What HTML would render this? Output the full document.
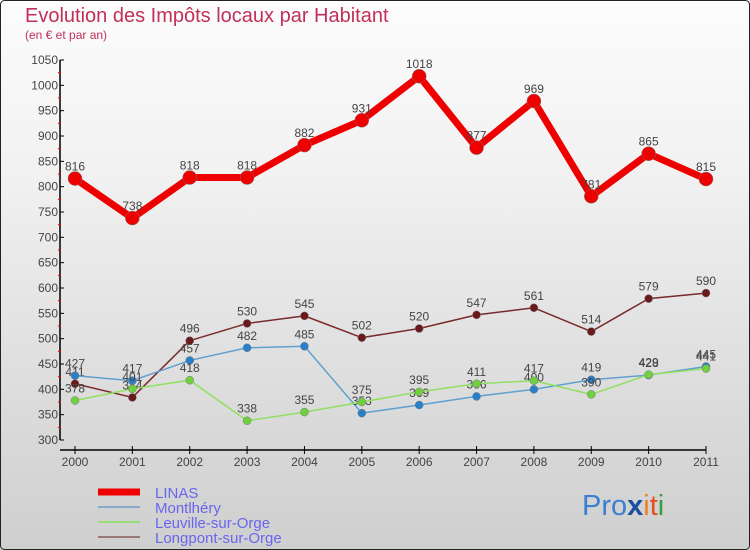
<!DOCTYPE html>
<html><head><meta charset="utf-8"><style>
body{margin:0;}
#wrap{position:relative;width:750px;height:550px;overflow:hidden;background:linear-gradient(#fcfcfc,#f2f2f2 30%,#d8d8d8 80%,#cfcfcf);font-family:"Liberation Sans",sans-serif;}
svg text{font-family:"Liberation Sans",sans-serif;}
</style></head><body>
<div id="wrap">
<svg id="chart" width="750" height="550">
<rect x="0.5" y="0.5" width="749" height="549" rx="4" fill="none" stroke="#222" stroke-width="1"/>
<text x="25" y="22" font-size="20" fill="#c0305a">Evolution des Impôts locaux par Habitant</text>
<text x="25" y="39" font-size="12" fill="#c0305a">(en € et par an)</text>
<g id="axes"></g><g id="series"></g><g id="legend"></g>
<text x="582" y="515" font-size="29"><tspan fill="#3a7fd0">Pro</tspan><tspan fill="#1a4fa0" font-weight="bold">x</tspan><tspan fill="#f08020">i</tspan><tspan fill="#e05020">t</tspan><tspan fill="#30a040">i</tspan></text>
</svg></div>
<script>
const years=[2000,2001,2002,2003,2004,2005,2006,2007,2008,2009,2010,2011];
const yTicks=[300,350,400,450,500,550,600,650,700,750,800,850,900,950,1000,1050];
const linas=[816,738,818,818,882,931,1018,877,969,781,865,815];
const montlhery=[427,417,457,482,485,353,369,386,400,419,428,445];
const leuville=[378,401,418,338,355,375,395,411,417,390,429,441];
const longpont=[411,384,496,530,545,502,520,547,561,514,579,590];
const NS="http://www.w3.org/2000/svg";
const xS=i=>75+i*(706-75)/11;
const yS=v=>440-(v-300)*(380/750);
function mk(t,a,p){const e=document.createElementNS(NS,t);for(const k in a)e.setAttribute(k,a[k]);p.appendChild(e);return e;}
const ax=document.getElementById('axes');
const yl=mk('line',{x1:60,y1:yS(1050),x2:60,y2:yS(300),stroke:'#000','stroke-width':1.5},ax);


const xl=mk('line',{x1:60,y1:450,x2:xS(11),y2:450,stroke:'#000','stroke-width':1.5},ax);


yTicks.forEach(v=>{
 mk('line',{x1:60,y1:yS(v),x2:64,y2:yS(v),stroke:'#000'},ax);
 if(v<1050)mk('line',{x1:58,y1:yS(v+25),x2:61,y2:yS(v+25),stroke:'#e00'},ax);
 const t=mk('text',{x:58,y:yS(v)+4,'text-anchor':'end','font-size':12,fill:'#444'},ax);
 t.textContent=v;
 
 
});
years.forEach((y,i)=>{
 mk('line',{x1:xS(i),y1:446,x2:xS(i),y2:454,stroke:'#000'},ax);
 const t=mk('text',{x:xS(i),y:466,'text-anchor':'middle','font-size':12,fill:'#444'},ax);
 t.textContent=y;
 
 
});
const sg=document.getElementById('series');
function series(vals,color,dot,w,r,name){
 const g=mk('g',{},sg);
 
 
 const pl=mk('polyline',{points:vals.map((v,i)=>xS(i)+','+yS(v)).join(' '),fill:'none',stroke:color,'stroke-width':w,'stroke-linejoin':'round'},g);
 
 
 vals.forEach((v,i)=>{
  const c=mk('circle',{cx:xS(i),cy:yS(v),r:r,fill:dot,stroke:'#777','stroke-width':0.5},g);
  
  
  const t=mk('text',{x:xS(i),y:yS(v)-8,'text-anchor':'middle','font-size':12,fill:'#444'},g);
  t.textContent=v;
  
  
 });
}
series(longpont,'#7a2a2a','#6a1a1a',1.5,4,'longpont');
series(montlhery,'#5fa0d0','#2a80c8',1.5,4,'montlhery');
series(leuville,'#90e060','#70d040',1.5,4,'leuville');
series(linas,'#ee0000','#ee0000',7,7,'linas');
const lg=document.getElementById('legend');
const names=['LINAS','Montlhéry','Leuville-sur-Orge','Longpont-sur-Orge'];
const cols=['#ee0000','#88aacc','#99dd77','#997777'];
const ws=[7,2,2,2];
names.forEach((n,i)=>{
 const y=492+i*15;
 const l=mk('line',{x1:98,y1:y,x2:140,y2:y,stroke:cols[i],'stroke-width':ws[i]},lg);
 
 
 const t=mk('text',{x:155,y:y+6,'font-size':15,fill:'#6666ee'},lg);
 t.textContent=n;
 
 
});
</script>
</body></html>
